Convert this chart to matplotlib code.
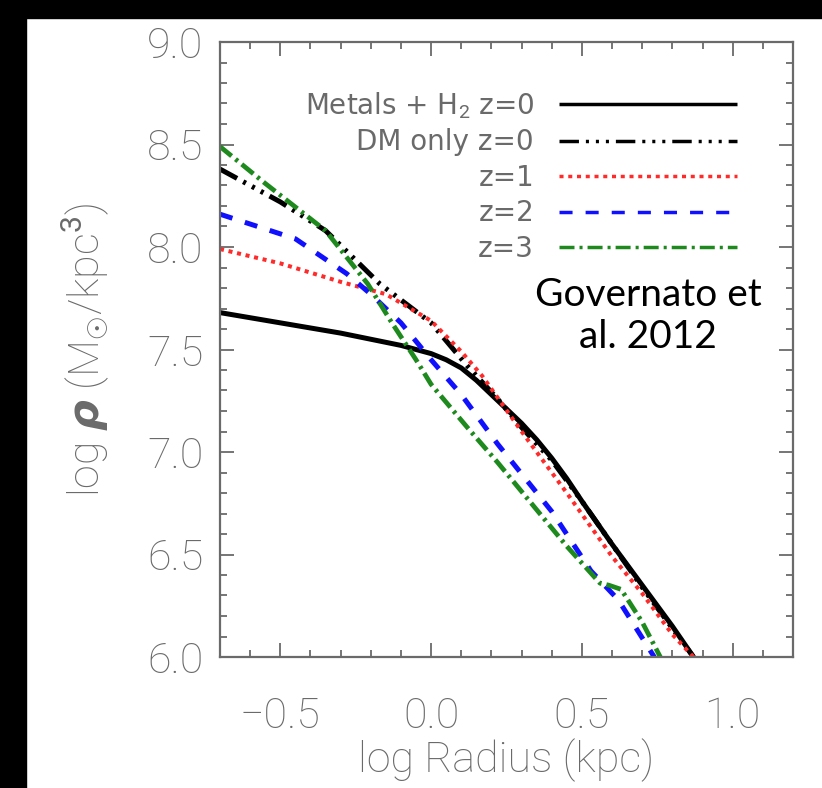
import matplotlib
matplotlib.use("Agg")
import matplotlib.pyplot as plt
from matplotlib.patches import Rectangle
from matplotlib.ticker import MultipleLocator

plt.rcParams['font.family'] = ['Roboto', 'DejaVu Sans']
plt.rcParams['lines.scale_dashes'] = False
plt.rcParams['mathtext.fontset'] = 'custom'
plt.rcParams['mathtext.rm'] = 'Roboto'
plt.rcParams['mathtext.it'] = 'DejaVu Sans:italic:bold'

# ---- data ----
x_metals = [-0.7, -0.5, -0.3, -0.1, 0.0, 0.05, 0.1, 0.15, 0.2, 0.3, 0.35, 0.4, 0.45, 0.5, 0.6, 0.7, 0.8, 0.87]
y_metals = [7.68, 7.63, 7.58, 7.52, 7.48, 7.45, 7.41, 7.35, 7.28, 7.14, 7.06, 6.97, 6.87, 6.76, 6.55, 6.35, 6.15, 6.0]

x_dm = [-0.7, -0.5, -0.35, -0.17, 0.0, 0.12, 0.22, 0.3, 0.4, 0.5, 0.6, 0.7, 0.8, 0.87]
y_dm = [8.38, 8.22, 8.08, 7.82, 7.63, 7.42, 7.26, 7.12, 6.96, 6.76, 6.55, 6.34, 6.14, 6.0]

x_z1 = [-0.7, -0.5, -0.3, -0.15, 0.0, 0.1, 0.17, 0.3, 0.45, 0.6, 0.7, 0.8, 0.87]
y_z1 = [7.99, 7.92, 7.83, 7.77, 7.64, 7.49, 7.37, 7.10, 6.80, 6.49, 6.31, 6.11, 6.0]

x_z2 = [-0.7, -0.45, -0.28, -0.2, -0.1, 0.0, 0.1, 0.22, 0.4, 0.53, 0.62, 0.74]
y_z2 = [8.16, 8.04, 7.87, 7.77, 7.63, 7.45, 7.28, 7.04, 6.71, 6.42, 6.28, 6.0]

x_z3 = [-0.7, -0.55, -0.35, -0.21, -0.13, -0.05, 0.0, 0.12, 0.22, 0.45, 0.56, 0.59, 0.63, 0.7, 0.76]
y_z3 = [8.49, 8.31, 8.08, 7.82, 7.63, 7.45, 7.33, 7.12, 6.95, 6.54, 6.36, 6.35, 6.33, 6.17, 6.0]

labels = [r'Metals + H$_2$ z=0', 'DM only z=0', 'z=1', 'z=2', 'z=3']
xticks = [-0.5, 0.0, 0.5, 1.0]
yticks = [6.0, 6.5, 7.0, 7.5, 8.0, 8.5, 9.0]

W, H = 822, 788
fig = plt.figure(figsize=(W / 100, H / 100), dpi=100)
fig.patch.set_facecolor('white')
# black frame bands (top and left)
fig.patches.append(Rectangle((0, 1 - 18 / H), 1, 18 / H, transform=fig.transFigure,
                             color='black', zorder=0))
fig.patches.append(Rectangle((0, 0), 26 / W, 1, transform=fig.transFigure,
                             color='black', zorder=0))

ax = fig.add_axes([220 / W, (H - 657) / H, 573 / W, 615 / H])

gray = '#6a6a6a'
ax.plot(x_metals, y_metals, color='black', lw=3.6, solid_capstyle='butt', label=labels[0])
ax.plot(x_dm, y_dm, color='black', lw=3.6, dashes=(14, 5, 2.2, 5, 2.2, 5, 2.2, 5), label=labels[1])
ax.plot(x_z1, y_z1, color='#ff2a2a', lw=2.9, dashes=(2.9, 3.4), label=labels[2])
ax.plot(x_z2, y_z2, color='#1010ff', lw=3.6, dashes=(9.4, 9.4), label=labels[3])
ax.plot(x_z3, y_z3, color='#1e8a1e', lw=3.4, dashes=(10.8, 3.6, 2.2, 3.6), label=labels[4])

ax.set_xlim(-0.7, 1.2)
ax.set_ylim(6.0, 9.0)
ax.set_xticks(xticks)
ax.set_yticks(yticks)
ax.set_xticklabels([f'{v:.1f}'.replace('-', '\u2212') for v in xticks])
ax.set_yticklabels([f'{v:.1f}' for v in yticks])
ax.xaxis.set_minor_locator(MultipleLocator(0.1))
ax.yaxis.set_minor_locator(MultipleLocator(0.1))
ax.tick_params(which='both', direction='in', top=True, right=True, color=gray,
               labelcolor=gray, labelsize=31)
ax.tick_params(which='major', length=10, width=1.3)
ax.tick_params(which='minor', length=5, width=1.3)
ax.tick_params(axis='x', pad=28)
ax.tick_params(axis='y', pad=12)
for t in ax.get_xticklabels() + ax.get_yticklabels():
    t.set_fontweight('light')
for s in ax.spines.values():
    s.set_color(gray)
    s.set_linewidth(1.6)

ax.set_xlabel('log Radius (kpc)', fontsize=31, color=gray, fontweight='light', labelpad=1)
ax.set_ylabel(r'log $\rho$ (M$_{\odot}$/kpc$^3$)', fontsize=31, color=gray,
              fontweight='light', labelpad=26)

leg = ax.legend(loc='upper right', bbox_to_anchor=(0.902, 0.922), frameon=False,
                markerfirst=False, handlelength=6.4, handletextpad=0.9,
                labelspacing=0.27, borderpad=0, borderaxespad=0,
                prop={'family': 'DejaVu Sans', 'size': 20})
leg._legend_box.align = 'right'
for t in leg.get_texts():
    t.set_color(gray)
for ln in leg.get_lines():
    ln.set_linewidth(2.5)

ax.text(0.747, 0.554, 'Governato et\nal. 2012', transform=ax.transAxes, ha='center',
        va='center', fontsize=28, family=['Lato', 'DejaVu Sans'], color='black')

fig.savefig('out.png', dpi=100, facecolor='white')
